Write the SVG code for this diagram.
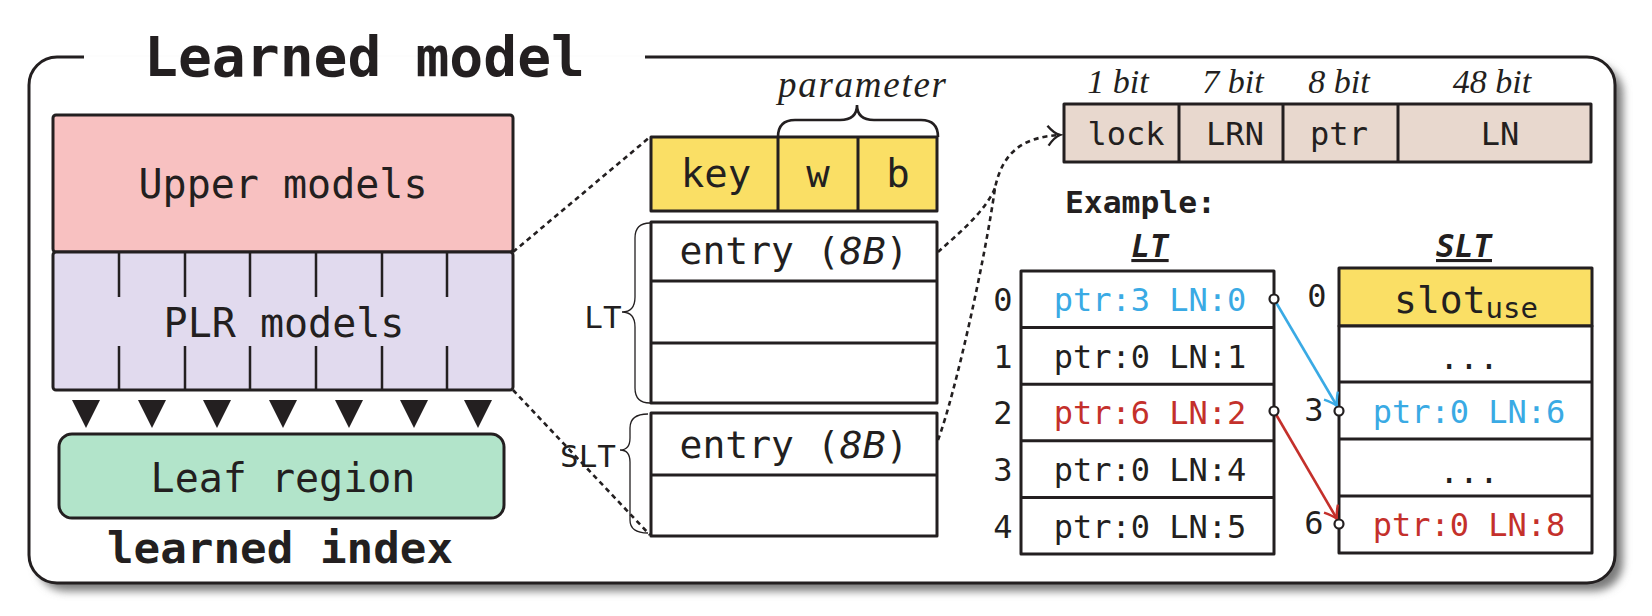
<svg xmlns="http://www.w3.org/2000/svg" width="1652" height="616" viewBox="0 0 1652 616">
<defs>
<filter id="sh" x="-5%" y="-5%" width="115%" height="120%">
<feGaussianBlur stdDeviation="4"/>
</filter>
<marker id="chev" markerUnits="userSpaceOnUse" markerWidth="20" markerHeight="24" refX="14" refY="11" orient="auto">
<path d="M2,1 Q8,9 14,11 Q8,13 2,21" fill="none" stroke="#231f20" stroke-width="2.4"/>
</marker>
<marker id="chevB" markerUnits="userSpaceOnUse" markerWidth="20" markerHeight="24" refX="14" refY="11" orient="auto">
<path d="M2,3 Q9,9 14,11 Q9,13 2,19" fill="none" stroke="#3aaae4" stroke-width="2.4"/>
</marker>
<marker id="chevR" markerUnits="userSpaceOnUse" markerWidth="20" markerHeight="24" refX="14" refY="11" orient="auto">
<path d="M2,3 Q9,9 14,11 Q9,13 2,19" fill="none" stroke="#c4302b" stroke-width="2.4"/>
</marker>
</defs>
<style>
.box{stroke:#231f20;stroke-width:3;stroke-linejoin:round}
.thin{stroke:#231f20;stroke-width:2.5}
.mono{font-family:"DejaVu Sans Mono","Liberation Mono",monospace;fill:#231f20}
.serif{font-family:"Liberation Serif","DejaVu Serif",serif;font-style:italic;fill:#231f20}
.dot{fill:none;stroke:#231f20;stroke-width:2.6;stroke-dasharray:5 4}
.brace{fill:none;stroke:#231f20;stroke-width:1.3}
.blue{fill:#3aaae4}
.red{fill:#c4302b}
.circ{fill:#fff;stroke:#231f20;stroke-width:2.2}
</style>

<g id="frame">
<rect x="37" y="65" width="1586" height="526" rx="28" fill="#7a7a7a" filter="url(#sh)"/>
<rect x="29" y="57" width="1586" height="526" rx="28" fill="#fff"/>
<path d="M84,57 H57 A28,28 0 0 0 29,85 V555 A28,28 0 0 0 57,583 H1587 A28,28 0 0 0 1615,555 V85 A28,28 0 0 0 1587,57 H645" fill="none" stroke="#231f20" stroke-width="3"/>
<text class="mono" x="144" y="76" font-size="55" font-weight="bold" textLength="441" lengthAdjust="spacingAndGlyphs">Learned model</text>
</g>

<g id="upper-models">
<rect class="box" x="53" y="115" width="460" height="137" rx="3" fill="#f8c1c1"/>
<text class="mono" x="283" y="198" font-size="40" text-anchor="middle">Upper models</text>
</g>

<g id="plr-models">
<rect class="box" x="53" y="252" width="460" height="138" rx="3" fill="#e1daee"/>
<path class="thin" d="M119,252V297M185,252V297M250,252V297M316,252V297M382,252V297M447,252V297M119,346V390M185,346V390M250,346V390M316,346V390M382,346V390M447,346V390"/>
<text class="mono" x="284" y="337" font-size="40" text-anchor="middle">PLR models</text>
</g>

<g id="triangles" fill="#231f20">
<path d="M72,400H100L86,428Z"/>
<path d="M138,400H166L152,428Z"/>
<path d="M203,400H231L217,428Z"/>
<path d="M269,400H297L283,428Z"/>
<path d="M335,400H363L349,428Z"/>
<path d="M400,400H428L414,428Z"/>
<path d="M464,400H492L478,428Z"/>
</g>

<g id="leaf-region">
<rect class="box" x="59" y="434" width="445" height="84" rx="13" fill="#b2e4ca"/>
<text class="mono" x="283" y="492" font-size="40" text-anchor="middle">Leaf region</text>
</g>
<text class="mono" x="107" y="563" font-size="43" font-weight="bold" textLength="346" lengthAdjust="spacingAndGlyphs">learned index</text>

<g id="model-params">
<rect class="box" x="651" y="137" width="286" height="74" fill="#fadf65"/>
<path class="box" d="M778,137V211M858,137V211"/>
<text class="mono" x="716" y="187" font-size="39" text-anchor="middle">key</text>
<text class="mono" x="818" y="187" font-size="39" text-anchor="middle">w</text>
<text class="mono" x="898" y="187" font-size="39" text-anchor="middle">b</text>
<path d="M778,137 Q778,120 795,120 L840,120 Q857,120 857,105 Q857,120 874,120 L921,120 Q938,120 938,137" fill="none" stroke="#231f20" stroke-width="2.6"/>
<text class="serif" x="778" y="97" font-size="37" textLength="168" lengthAdjust="spacing">parameter</text>
</g>

<g id="lt-table">
<rect class="box" x="651" y="222" width="286" height="181" fill="#fff"/>
<path class="box" d="M651,281H937M651,343H937"/>
<text class="mono" x="794" y="264" font-size="38" text-anchor="middle">entry (<tspan font-style="italic">8B</tspan>)</text>
<path class="brace" d="M650,223 Q635,223 635,238 L635,297 Q635,312 622,312 Q635,312 635,327 L635,388 Q635,403 650,403"/>
<text class="mono" x="603" y="328" font-size="31" text-anchor="middle">LT</text>
</g>

<g id="slt-table">
<rect class="box" x="651" y="413" width="286" height="123" fill="#fff"/>
<path class="box" d="M651,475H937"/>
<text class="mono" x="794" y="458" font-size="38" text-anchor="middle">entry (<tspan font-style="italic">8B</tspan>)</text>
<path class="brace" d="M648,414 Q630,414 630,428 L630,438 Q630,450 620,450 Q630,450 630,462 L630,520 Q630,533 648,533"/>
<text class="mono" x="588" y="467" font-size="31" text-anchor="middle">SLT</text>
</g>

<g id="entry-format">
<rect class="box" x="1064" y="104" width="527" height="58" fill="#e8d8ce"/>
<path class="box" d="M1179,104V162M1283,104V162M1398,104V162"/>
<text class="mono" x="1126" y="145" font-size="32" text-anchor="middle">lock</text>
<text class="mono" x="1235" y="145" font-size="32" text-anchor="middle">LRN</text>
<text class="mono" x="1339" y="145" font-size="32" text-anchor="middle">ptr</text>
<text class="mono" x="1500" y="145" font-size="32" text-anchor="middle">LN</text>
<text class="serif" x="1118" y="93" font-size="34" text-anchor="middle">1 bit</text>
<text class="serif" x="1233" y="93" font-size="34" text-anchor="middle">7 bit</text>
<text class="serif" x="1339" y="93" font-size="34" text-anchor="middle">8 bit</text>
<text class="serif" x="1492" y="93" font-size="34" text-anchor="middle">48 bit</text>
</g>

<text class="mono" x="1065" y="213" font-size="30" font-weight="bold" textLength="151" lengthAdjust="spacingAndGlyphs">Example:</text>

<g id="example-lt">
<text class="mono" x="1150" y="257" font-size="31" font-weight="bold" font-style="italic" text-anchor="middle" text-decoration="underline">LT</text>
<rect class="box" x="1021" y="271" width="253" height="283" fill="#fff"/>
<path class="box" d="M1021,327.6H1274M1021,384.2H1274M1021,440.8H1274M1021,497.4H1274"/>
<text class="mono blue" x="1150" y="311" font-size="32" text-anchor="middle">ptr:3 LN:0</text>
<text class="mono" x="1150" y="368" font-size="32" text-anchor="middle">ptr:0 LN:1</text>
<text class="mono red" x="1150" y="424" font-size="32" text-anchor="middle">ptr:6 LN:2</text>
<text class="mono" x="1150" y="481" font-size="32" text-anchor="middle">ptr:0 LN:4</text>
<text class="mono" x="1150" y="538" font-size="32" text-anchor="middle">ptr:0 LN:5</text>
<text class="mono" x="1003" y="311" font-size="32" text-anchor="middle">0</text>
<text class="mono" x="1003" y="368" font-size="32" text-anchor="middle">1</text>
<text class="mono" x="1003" y="424" font-size="32" text-anchor="middle">2</text>
<text class="mono" x="1003" y="481" font-size="32" text-anchor="middle">3</text>
<text class="mono" x="1003" y="538" font-size="32" text-anchor="middle">4</text>
</g>

<g id="example-slt">
<text class="mono" x="1464" y="257" font-size="31" font-weight="bold" font-style="italic" text-anchor="middle" text-decoration="underline">SLT</text>
<rect class="box" x="1339" y="268" width="253" height="58" fill="#fadf65"/>
<rect class="box" x="1339" y="326" width="253" height="227" fill="#fff"/>
<path class="box" d="M1339,382H1592M1339,439H1592M1339,496H1592"/>
<text class="mono" x="1466" y="313" font-size="38" text-anchor="middle">slot<tspan font-size="29" dy="5">use</tspan></text>
<text class="mono" x="1469" y="369" font-size="33" text-anchor="middle">...</text>
<text class="mono" x="1469" y="483" font-size="33" text-anchor="middle">...</text>
<text class="mono blue" x="1469" y="423" font-size="32" text-anchor="middle">ptr:0 LN:6</text>
<text class="mono red" x="1469" y="536" font-size="32" text-anchor="middle">ptr:0 LN:8</text>
<text class="mono" x="1317" y="307" font-size="32" text-anchor="middle">0</text>
<text class="mono" x="1314" y="421" font-size="32" text-anchor="middle">3</text>
<text class="mono" x="1314" y="534" font-size="32" text-anchor="middle">6</text>
</g>

<g id="connectors">
<path class="dot" d="M513,252 L650,137"/>
<path class="dot" d="M513,390 L650,535"/>
<path class="dot" d="M938,252 C958,234 985,212 995,188"/>
<path class="dot" d="M938,440 C955,395 985,260 995,188 C1003,150 1025,137 1060,135" marker-end="url(#chev)"/>
<path d="M1274,299 L1337,406" fill="none" stroke="#3aaae4" stroke-width="2.6" marker-end="url(#chevB)"/>
<path d="M1274,411 L1337,519" fill="none" stroke="#c4302b" stroke-width="2.6" marker-end="url(#chevR)"/>
<circle class="circ" cx="1274" cy="299" r="4.5"/>
<circle class="circ" cx="1274" cy="411" r="4.5"/>
<circle class="circ" cx="1339" cy="411" r="4.5"/>
<circle class="circ" cx="1339" cy="524" r="4.5"/>
</g>
</svg>
